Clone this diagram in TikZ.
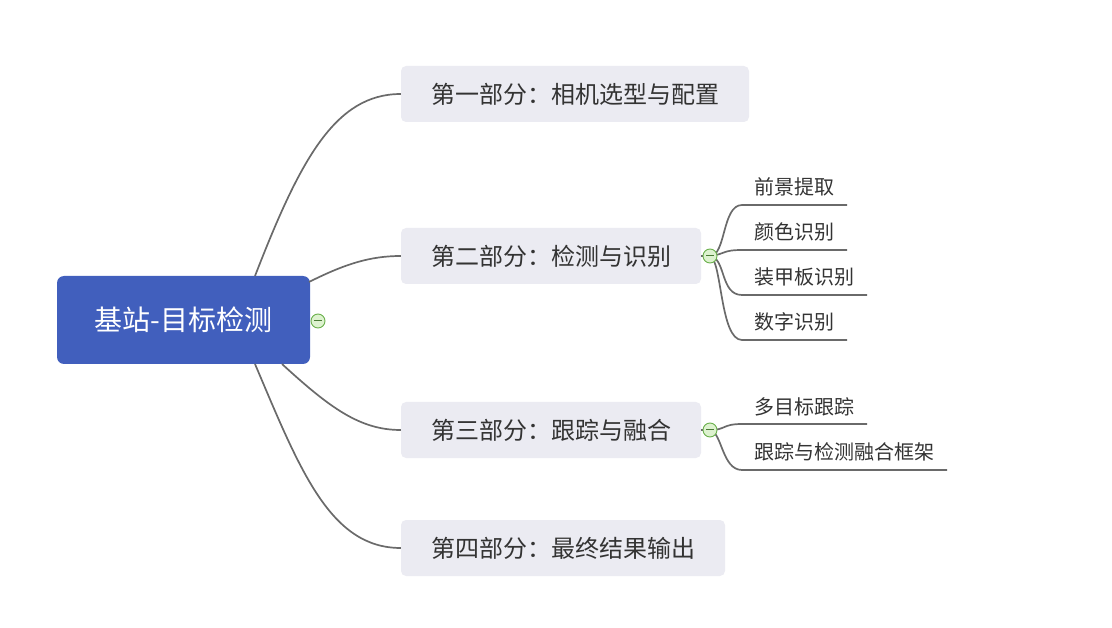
\documentclass[tikz,border=0pt]{standalone}
\usepackage{fontspec}
\setmainfont{Noto Sans CJK SC}
\begin{document}
\begin{tikzpicture}[x=1pt,y=-1pt,
  conn/.style={draw=linegray,line width=1.7pt},
  rootbox/.style={fill=rootblue,rounded corners=7pt,minimum width=253pt,minimum height=88pt,inner sep=0pt,text=white,font=\fontsize{28}{31}\selectfont},
  topicbox/.style={fill=boxgray,rounded corners=5pt,minimum height=56pt,inner sep=0pt,text=txtgray,font=\fontsize{24}{27}\selectfont},
  subtext/.style={anchor=base west,inner sep=0pt,text=txtgray,font=\fontsize{20}{23}\selectfont},
  togglec/.style={circle,draw=togglegreen,line width=0.9pt,fill=togglefill,minimum size=14pt,inner sep=0pt}
]
\definecolor{linegray}{HTML}{6A6A6A}
\definecolor{rootblue}{HTML}{415FBD}
\definecolor{boxgray}{HTML}{EBEBF2}
\definecolor{txtgray}{HTML}{333333}
\definecolor{togglegreen}{HTML}{6AB04C}
\definecolor{togglefill}{HTML}{DDF2CF}
\useasboundingbox (0,0) rectangle (1112,628);

% root
\node[rootbox] (root) at (183.5,320) {基站-目标检测};

% topics
\node[topicbox,minimum width=348pt] (b1) at (575,94) {第一部分：相机选型与配置};
\node[topicbox,minimum width=300pt] (b2) at (551,256) {第二部分：检测与识别};
\node[topicbox,minimum width=300pt] (b3) at (551,430) {第三部分：跟踪与融合};
\node[topicbox,minimum width=324pt] (b4) at (563,548) {第四部分：最终结果输出};

% root connectors
\coordinate (r1) at (255,276);
\coordinate (r2) at (309,282);
\coordinate (r3) at (282,364);
\coordinate (r4) at (255,364);
\draw[conn] (r1) .. controls (300,160) and (335,94) .. (b1.west);
\draw[conn] (r2) .. controls (345,264) and (370,256) .. (b2.west);
\draw[conn] (r3) .. controls (330,408) and (360,430) .. (b3.west);
\draw[conn] (r4) .. controls (300,470) and (330,548) .. (b4.west);

% sub-topic anchors
\coordinate (c2p) at (710,256);
\coordinate (c3p) at (710,430);

\coordinate (u1s) at (742,205); \coordinate (u1e) at (847,205);
\coordinate (u2s) at (742,250); \coordinate (u2e) at (847,250);
\coordinate (u3s) at (742,295); \coordinate (u3e) at (867,295);
\coordinate (u4s) at (742,340); \coordinate (u4e) at (847,340);
\coordinate (v1s) at (742,424); \coordinate (v1e) at (867,424);
\coordinate (v2s) at (742,470); \coordinate (v2e) at (947,470);

\draw[conn] (b2.east) -- (c2p);
\draw[conn] (b3.east) -- (c3p);

\draw[conn] (c2p) .. controls (726,256) and (722,205) .. (u1s) -- (u1e);
\draw[conn] (c2p) .. controls (726,254) and (722,250) .. (u2s) -- (u2e);
\draw[conn] (c2p) .. controls (726,258) and (720,295) .. (u3s) -- (u3e);
\draw[conn] (c2p) .. controls (722,260) and (720,340) .. (u4s) -- (u4e);
\draw[conn] (c3p) .. controls (726,430) and (722,424) .. (v1s) -- (v1e);
\draw[conn] (c3p) .. controls (722,432) and (722,470) .. (v2s) -- (v2e);

\node[subtext] (s21) at (754,195) {前景提取};
\node[subtext] (s22) at (754,240) {颜色识别};
\node[subtext] (s23) at (754,285) {装甲板识别};
\node[subtext] (s24) at (754,330) {数字识别};
\node[subtext] (s31) at (754,415) {多目标跟踪};
\node[subtext] (s32) at (754,460) {跟踪与检测融合框架};

% toggles
\node[togglec] (c0) at (318,321) {};
\node[togglec] (c2) at (c2p) {};
\node[togglec] (c3) at (c3p) {};
\foreach \c in {c0,c2,c3}{
  \draw[togglegreen!70!black,line width=1pt] ([xshift=-4pt]\c.center) -- ([xshift=4pt]\c.center);
}
\end{tikzpicture}
\end{document}
